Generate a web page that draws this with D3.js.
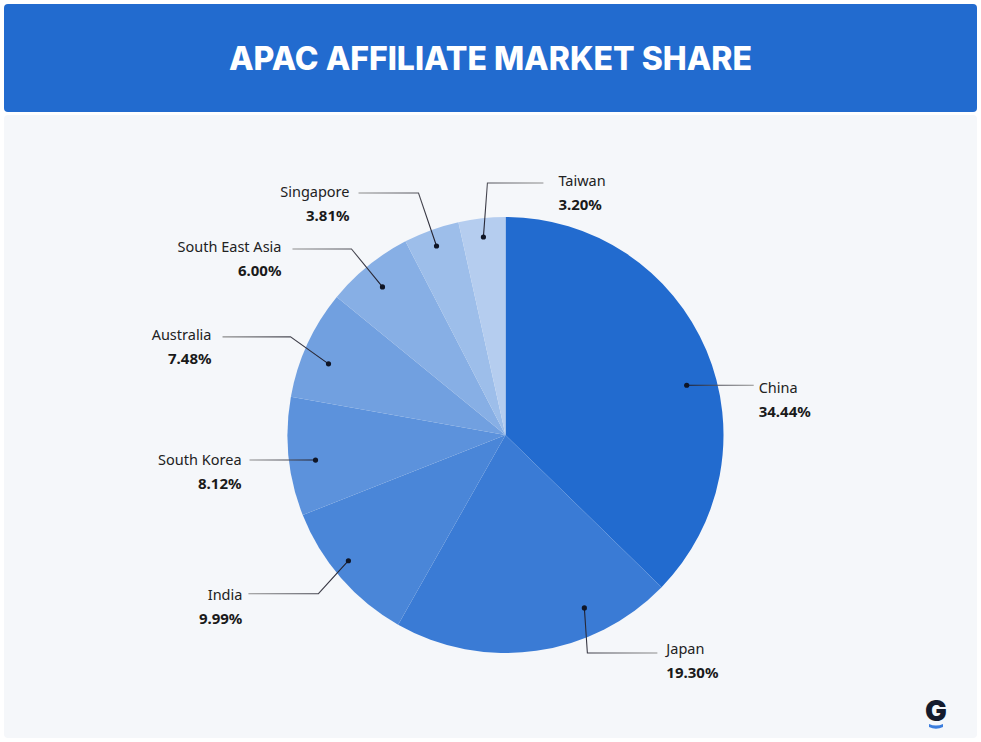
<!DOCTYPE html>
<html>
<head>
<meta charset="utf-8">
<script src="https://cdn.jsdelivr.net/npm/d3@7"></script>
<style>
  html, body { margin: 0; padding: 0; background: #ffffff; }
  svg { display: block; }
</style>
</head>
<body>
<svg id="chart" width="981" height="742"></svg>
<script>
// ---- DATA ----
const title = "APAC AFFILIATE MARKET SHARE";
const categories = ["China", "Japan", "India", "South Korea", "Australia", "South East Asia", "Singapore", "Taiwan"];
const values = [34.44, 19.30, 9.99, 8.12, 7.48, 6.00, 3.81, 3.20];
const valueLabels = ["34.44%", "19.30%", "9.99%", "8.12%", "7.48%", "6.00%", "3.81%", "3.20%"];
const colors = ["#226bcf", "#3a7bd5", "#4a86d8", "#5c92dc", "#71a0e0", "#87afe5", "#9dbeea", "#b5cdef"];

// ---- LABEL LAYOUT (leader-line geometry, not data) ----
// f: position of anchor within slice (0..1), k: anchor radius ratio,
// ex/ey: elbow offset from anchor, len: horizontal run, side, gap, ty: text baseline offset
const labelLayout = [
  { f: 0.556, k: 0.862, ex: 0,   ey: 0,   len: 67, side: "right", gap: 5,  ty: 8 },
  { f: 0.282, k: 0.872, ex: 3,   ey: 45,  len: 70, side: "right", gap: 9,  ty: 1 },
  { f: 0.56,  k: 0.923, ex: -30, ey: 33,  len: 70, side: "left",  gap: 6,  ty: 6 },
  { f: 0.443, k: 0.879, ex: 0,   ey: 0,   len: 66, side: "left",  gap: 8,  ty: 5 },
  { f: 0.404, k: 0.875, ex: -38, ey: -27, len: 68, side: "left",  gap: 11, ty: 3 },
  { f: 0.47,  k: 0.883, ex: -31, ey: -38, len: 59, side: "left",  gap: 11, ty: 3 },
  { f: 0.49,  k: 0.923, ex: -18, ey: -53, len: 60, side: "left",  gap: 9,  ty: 4 },
  { f: 0.49,  k: 0.914, ex: 4,   ey: -54, len: 56, side: "right", gap: 15, ty: 3 }
];

const W = 981, H = 742;
const svg = d3.select("#chart");

// Header + card
svg.append("rect").attr("x", 4).attr("y", 115).attr("width", 973).attr("height", 623)
  .attr("rx", 4).attr("fill", "#f5f7fa");
svg.append("rect").attr("x", 4).attr("y", 4).attr("width", 973).attr("height", 108)
  .attr("rx", 4).attr("fill", "#226bcf");
svg.append("text").attr("x", 490.5).attr("y", 70).attr("text-anchor", "middle")
  .attr("font-family", "Inter, 'Open Sans', sans-serif").attr("font-weight", 800)
  .attr("font-size", 32).attr("fill", "#ffffff")
  .attr("textLength", 523).attr("lengthAdjust", "spacingAndGlyphs")
  .text(title);

// Pie
const cx = 505.5, cy = 435, R = 218;
const g = svg.append("g").attr("transform", `translate(${cx},${cy})`);
const data = categories.map((c, i) => ({ name: c, value: values[i], label: valueLabels[i], color: colors[i], lay: labelLayout[i] }));
const pie = d3.pie().value(d => d.value).sort(null).startAngle(0).endAngle(2 * Math.PI);
const arcs = pie(data);
const arc = d3.arc().innerRadius(0).outerRadius(R);

g.selectAll("path.slice").data(arcs).join("path")
  .attr("class", "slice")
  .attr("d", arc)
  .attr("fill", d => d.data.color);

// gradients + leader lines
const defs = svg.append("defs");
arcs.forEach((d, i) => {
  const L = d.data.lay;
  const a = d.startAngle + (d.endAngle - d.startAngle) * L.f;
  const r = R * L.k;
  const px = Math.sin(a) * r, py = -Math.cos(a) * r;
  const bx = px + L.ex, by = py + L.ey;
  const dir = L.side === "right" ? 1 : -1;
  const qx = bx + dir * L.len, qy = by;

  const gid = "lg" + i;
  const grad = defs.append("linearGradient").attr("id", gid)
    .attr("gradientUnits", "userSpaceOnUse")
    .attr("x1", cx + qx).attr("y1", cy + qy).attr("x2", cx + px).attr("y2", cy + py);
  grad.append("stop").attr("offset", "0%").attr("stop-color", "#8f8f8f");
  grad.append("stop").attr("offset", "100%").attr("stop-color", "#1a1a2a");

  svg.append("path")
    .attr("d", d3.line()([[cx + px, cy + py], [cx + bx, cy + by], [cx + qx, cy + qy]]))
    .attr("fill", "none").attr("stroke", `url(#${gid})`).attr("stroke-width", 1.1);

  svg.append("circle").attr("cx", cx + px).attr("cy", cy + py).attr("r", 2.6).attr("fill", "#0f1526");

  const tx = cx + qx + dir * L.gap;
  const anchor = L.side === "right" ? "start" : "end";
  svg.append("text").attr("x", tx).attr("y", cy + qy + L.ty)
    .attr("text-anchor", anchor)
    .attr("font-family", "'Noto Sans', 'Open Sans', sans-serif")
    .attr("font-size", 14.5).attr("fill", "#222222")
    .text(d.data.name);
  svg.append("text").attr("x", tx).attr("y", cy + qy + L.ty + 24)
    .attr("text-anchor", anchor)
    .attr("font-family", "'Noto Sans', 'Open Sans', sans-serif")
    .attr("font-weight", 700)
    .attr("font-size", 15).attr("fill", "#1a1a1a")
    .text(d.data.label);
});

// Logo
const logo = svg.append("g").attr("transform", "translate(936,721)");
logo.append("text").attr("x", 0).attr("y", 0).attr("text-anchor", "middle")
  .attr("font-family", "Inter, 'DejaVu Sans', sans-serif").attr("font-weight", 900)
  .attr("font-size", 29).attr("fill", "#141b2d").text("G");
logo.append("path")
  .attr("d", "M-7,3 Q0,6 7,3 L7,6 Q0,9.5 -7,6 Z")
  .attr("fill", "#3b7ddd");
</script>
</body>
</html>
